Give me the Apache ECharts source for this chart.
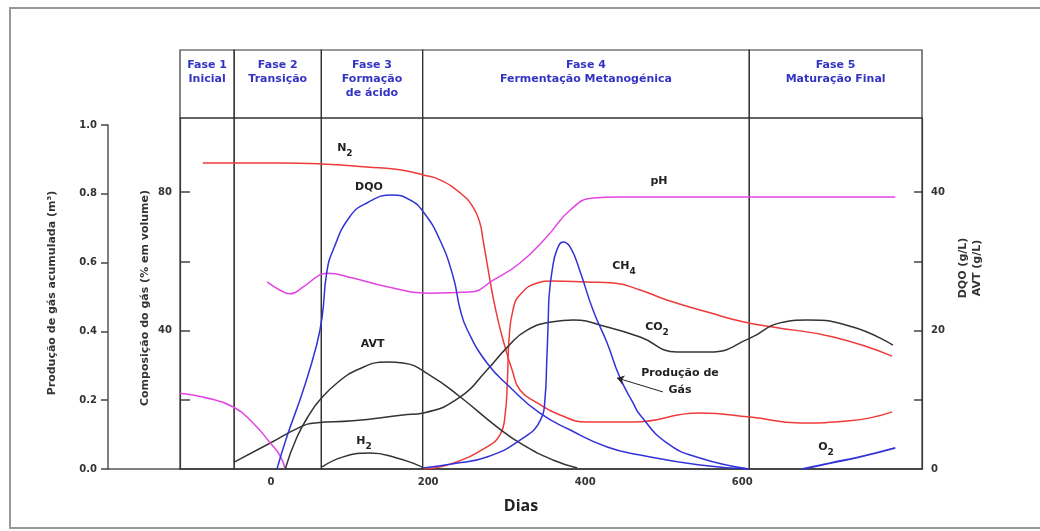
<!DOCTYPE html>
<html><head><meta charset="utf-8">
<script src="https://cdn.jsdelivr.net/npm/echarts@6/dist/echarts.min.js"></script>
<style>html,body{margin:0;padding:0;background:#fff}#c{width:1040px;height:531px}</style>
</head><body><div id="c"></div>
<script>
// ---------- data (x = dias) ----------
const XMIN = -116, XMAX = 829;
const phaseBounds = [-116, -47, 64, 193, 609, 829];
const phaseNames = ['Fase 1\nInicial', 'Fase 2\nTransição', 'Fase 3\nFormação\nde ácido', 'Fase 4\nFermentação Metanogénica', 'Fase 5\nMaturação Final'];
const xTickLabels = [0, 200, 400, 600];
const pctTicks = [20, 40, 60, 80];
const pctLabels = [40, 80];
const glTicks = [10, 20, 30, 40];
const glLabels = [0, 20, 40];

// gas composition (% em volume)
const N2 = [[-87,88.4],[-47,88.4],[11,88.4],[64,88.1],[122,87.2],[164,86.4],[194,84.9],[215,83.5],[241,79.7],[257,75.7],[266,71.0],[270,66.1],[275,59.5],[281,51.7],[289,43.0],[298,35.2],[307,28.6],[317,22.8],[339,19.1],[368,15.6],[402,13.6],[461,13.6],[546,16.2],[610,15.0],[674,13.3],[737,13.9],[791,16.5]];
const CH4 = [[194,0],[228,1.4],[275,6.4],[292,10.1],[298,15.6],[301,25.7],[303,37.3],[308,45.9],[317,50.3],[339,53.7],[359,54.3],[402,54.0],[436,53.7],[470,51.7],[504,48.8],[559,45.1],[601,42.5],[639,41.0],[716,38.1],[791,32.6]];
const CO2 = [[-47,2.0],[-1,7.5],[37,12.1],[56,13.3],[104,13.9],[168,15.6],[194,16.2],[241,20.8],[275,28.6],[301,35.2],[326,40.1],[359,42.5],[385,43.0],[428,41.0],[470,38.1],[517,33.8],[559,33.8],[610,37.8],[648,42.2],[683,43.0],[741,41.0],[792,35.8]];
const H2 = [[65,0.6],[92,3.5],[126,4.6],[160,3.2],[186,1.2],[194,0.3]];
const O2_INICIAL = [[-116,21.9],[-87,20.8],[-48,17.9],[-23,13.3],[-1,7.5],[11,4.0],[18,0]];
const O2_FINAL = [[677,0],[712,1.7],[750,3.5],[795,6.1]];
// pH
const PH = [[-5,5.33],[11,5.10],[24,4.99],[41,5.19],[62,5.53],[71,5.58],[104,5.44],[148,5.19],[202,5.01],[253,5.04],[283,5.38],[317,5.87],[351,6.61],[381,7.38],[410,7.72],[444,7.75],[546,7.75],[674,7.75],[795,7.75]];
// DQO / AVT (g/L)
const DQO = [[7.5,0],[20,4.62],[41,11.41],[58,17.91],[65,21.95],[71,28.45],[79,31.62],[100,36.39],[122,38.41],[154,39.57],[177,38.84],[194,37.11],[215,33.07],[232,27.73],[241,22.96],[250,20.07],[275,15.31],[304,11.84],[342,8.09],[381,5.63],[428,3.18],[470,2.02],[546,0.58],[609,0]];
const AVT = [[18,0],[33,4.62],[50,8.09],[62,9.96],[84,12.42],[109,14.30],[148,15.45],[168,15.31],[202,13.57],[241,10.40],[288,6.06],[321,3.47],[359,1.30],[390,0.14]];
// produção de gás (m3)
const GAS = [[194,0.003],[232,0.015],[275,0.035],[317,0.084],[343,0.142],[349,0.209],[351,0.308],[353,0.433],[354,0.5],[358,0.578],[364,0.637],[372,0.66],[381,0.645],[393,0.578],[410,0.462],[428,0.366],[444,0.267],[461,0.192],[470,0.157],[504,0.076],[546,0.032],[609,0]];

// ---------- style ----------
const F = 'DejaVu Sans';
const RED = '#ef3a3a', BLUE = '#3232d6', PINK = '#e244e2', BLACK = '#333333';
const TXT = '#222';
const PCT_MAX = 351 / 3.4625, GL_MAX = 351 / 6.925, M3_MAX = 351 / 344;

const rich = {
  m: {fontFamily: F, fontWeight: 'bold', fontSize: 11, color: TXT, lineHeight: 20, verticalAlign: 'middle'},
  s: {fontFamily: F, fontWeight: 'bold', fontSize: 9, color: TXT, lineHeight: 10, verticalAlign: 'bottom'}
};
function tag(coord, text) {
  return {
    symbol: 'circle', symbolSize: 1, silent: true,
    itemStyle: {color: 'rgba(0,0,0,0)'},
    label: {show: true, position: 'inside', formatter: text, fontFamily: F, fontWeight: 'bold', fontSize: 11, color: TXT, lineHeight: 17, rich},
    data: [{coord}]
  };
}
function line(name, data, color, yAxisIndex, extra) {
  return Object.assign({
    type: 'line', name, data, xAxisIndex: 0, yAxisIndex, symbol: 'none',
    smooth: 0.5, silent: true, z: 3,
    lineStyle: {color, width: 1.5}, itemStyle: {color}
  }, extra || {});
}
const phaseAreas = phaseNames.map((n, i) => [{xAxis: phaseBounds[i], name: n}, {xAxis: phaseBounds[i + 1]}]);
const frame = {color: 'rgba(0,0,0,0)', borderColor: '#333', borderWidth: 1.2};
const tickLabel = {fontFamily: F, fontWeight: 'bold', fontSize: 10, color: '#333'};

const option = {
  animation: false,
  backgroundColor: '#fff',
  grid: [
    {left: 180, right: 118, top: 118, bottom: 62, outerBoundsMode: 'none'},
    {left: 108, right: 118, top: 125, bottom: 62, outerBoundsMode: 'none'},
    {left: 180, right: 118, top: 50, height: 68, outerBoundsMode: 'none'}
  ],
  xAxis: [
    {gridIndex: 0, type: 'value', min: XMIN, max: XMAX,
     axisLine: {show: true, onZero: false, lineStyle: {color: '#555', width: 1.5}},
     axisTick: {show: false}, splitLine: {show: false},
     axisLabel: Object.assign({customValues: xTickLabels, margin: 8}, tickLabel)},
    {gridIndex: 1, type: 'value', min: 0, max: 1,
     axisLine: {show: true, onZero: false, lineStyle: {color: '#555', width: 1.5}},
     axisTick: {show: false}, axisLabel: {show: false}, splitLine: {show: false}},
    {gridIndex: 2, type: 'value', min: XMIN, max: XMAX, show: false}
  ],
  yAxis: [
    {gridIndex: 0, type: 'value', position: 'left', min: 0, max: PCT_MAX,
     axisLine: {show: true, onZero: false, lineStyle: {color: '#444', width: 1.2}},
     axisTick: {show: true, inside: true, length: 10, customValues: pctTicks, lineStyle: {color: '#444', width: 1.5}},
     axisLabel: Object.assign({customValues: pctLabels, margin: 8}, tickLabel),
     splitLine: {show: false}},
    {gridIndex: 0, type: 'value', position: 'right', min: 0, max: GL_MAX,
     axisLine: {show: true, onZero: false, lineStyle: {color: '#444', width: 1.2}},
     axisTick: {show: true, inside: true, length: 8, customValues: glTicks, lineStyle: {color: '#444', width: 1.5}},
     axisLabel: Object.assign({customValues: glLabels, margin: 9}, tickLabel),
     splitLine: {show: false}},
    {gridIndex: 0, type: 'value', min: 0, max: M3_MAX, show: false},
    {gridIndex: 0, type: 'value', min: 0, max: 10, show: false},
    {gridIndex: 1, type: 'value', position: 'left', min: 0, max: 1, interval: 0.2,
     axisLine: {show: true, onZero: false, lineStyle: {color: '#555', width: 1.5}},
     axisTick: {show: true, inside: false, length: 7, lineStyle: {color: '#444', width: 1.5}},
     axisLabel: Object.assign({margin: 11, formatter: v => v.toFixed(1)}, tickLabel),
     splitLine: {show: false}},
    {gridIndex: 2, type: 'value', min: 0, max: 1, show: false}
  ],
  series: [
    {type: 'line', name: 'fases-cabecalho', xAxisIndex: 2, yAxisIndex: 5, data: [], silent: true,
     markArea: {silent: true, itemStyle: frame,
       label: {show: true, position: 'insideTop', distance: 9, color: '#3434c4', fontFamily: F, fontWeight: 'bold', fontSize: 11, lineHeight: 14, align: 'center'},
       data: phaseAreas}},
    {type: 'line', name: 'fases', xAxisIndex: 0, yAxisIndex: 0, data: [], silent: true,
     markArea: {silent: true, itemStyle: frame, label: {show: false}, data: phaseAreas}},
    line('N2', N2, RED, 0, {markPoint: tag([94, 92.7], '{m|N}{s|2}')}),
    line('CH4', CH4, RED, 0, {markPoint: tag([449.5, 58.6], '{m|CH}{s|4}')}),
    line('CO2', CO2, BLACK, 0, {markPoint: tag([491.5, 41.0], '{m|CO}{s|2}')}),
    line('H2', H2, BLACK, 0, {markPoint: tag([118.3, 8.1], '{m|H}{s|2}')}),
    line('O2 inicial', O2_INICIAL, PINK, 0),
    line('O2', O2_FINAL, BLUE, 0, {lineStyle: {color: BLUE, width: 2}, markPoint: tag([706.7, 6.35], '{m|O}{s|2}')}),
    line('pH', PH, PINK, 3, {markPoint: tag([494, 8.2], 'pH')}),
    line('DQO', DQO, BLUE, 1, {markPoint: tag([124.7, 40.7], 'DQO')}),
    line('AVT', AVT, BLACK, 1, {markPoint: tag([129.2, 18.05], 'AVT')}),
    line('Produção de Gás', GAS, BLUE, 2, {
      markPoint: tag([520.8, 0.253], 'Produção de\nGás'),
      markLine: {silent: true, symbol: ['none', 'arrow'], symbolSize: 7,
        lineStyle: {color: '#222', width: 1, type: 'solid'}, label: {show: false},
        data: [[{coord: [499.1, 0.224]}, {coord: [440.6, 0.2645]}]]}
    })
  ],
  graphic: [
    {type: 'rect', z: 0, silent: true, shape: {x: 10, y: 8, width: 1080, height: 520}, style: {fill: 'none', stroke: '#999', lineWidth: 2}},
    {type: 'text', silent: true, x: 52, y: 293, rotation: Math.PI / 2,
     style: {text: 'Produção de gás acumulada (m³)', font: 'bold 11px "DejaVu Sans"', fill: '#333', align: 'center', verticalAlign: 'middle', textAlign: 'center', textVerticalAlign: 'middle'}},
    {type: 'text', silent: true, x: 145, y: 298, rotation: Math.PI / 2,
     style: {text: 'Composição do gás (% em volume)', font: 'bold 11px "DejaVu Sans"', fill: '#333', align: 'center', verticalAlign: 'middle', textAlign: 'center', textVerticalAlign: 'middle'}},
    {type: 'text', silent: true, x: 970, y: 268, rotation: Math.PI / 2,
     style: {text: 'DQO (g/L)\nAVT (g/L)', font: 'bold 11px "DejaVu Sans"', lineHeight: 14, fill: '#333', align: 'center', verticalAlign: 'middle', textAlign: 'center', textVerticalAlign: 'middle'}},
    {type: 'text', silent: true, x: 521, y: 506,
     style: {text: 'Dias', font: 'bold 16px "Open Sans"', fill: '#222', align: 'center', verticalAlign: 'middle', textAlign: 'center', textVerticalAlign: 'middle'}}
  ]
};
const chart = echarts.init(document.getElementById('c'), null, {renderer: 'canvas'});
chart.setOption(option);
</script></body></html>
